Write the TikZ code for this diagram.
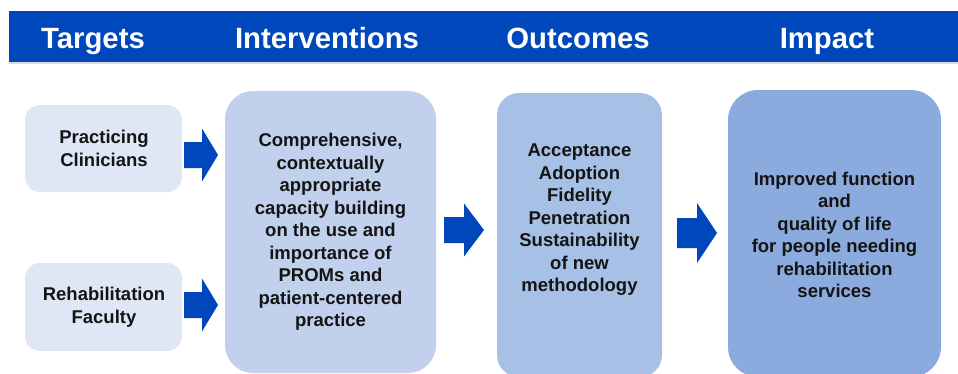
\documentclass[tikz,border=0pt]{standalone}
\usepackage{fontspec}
\setmainfont{Liberation Sans}
\begin{document}
\begin{tikzpicture}[x=1pt,y=-1pt,
  headtxt/.style={text=white,font=\fontsize{29.3}{34}\selectfont\bfseries,anchor=base},
  body/.style={text=black!92,font=\fontsize{18.5}{22.5}\selectfont\bfseries,align=center},
  blockarrow/.style={fill=bandblue,draw=none}]
\definecolor{bandblue}{RGB}{0,71,187}
\definecolor{tgtfill}{RGB}{223,231,246}
\definecolor{intfill}{RGB}{193,209,237}
\definecolor{outfill}{RGB}{167,192,230}
\definecolor{impfill}{RGB}{139,170,222}
\useasboundingbox (0,0) rectangle (958,373);
\clip (0,0) rectangle (958,373);

% title band with a faint shadow beneath
\fill[black!14] (9,62) rectangle (958,64);
\fill[bandblue] (9,11) rectangle (958,62);
\node[headtxt] (hT) at (93,48.5) {Targets};
\node[headtxt] (hI) at (327,48.5) {Interventions};
\node[headtxt] (hO) at (578,48.5) {Outcomes};
\node[headtxt] (hP) at (827,48.5) {Impact};

% boxes
\fill[tgtfill,rounded corners=15] (25,105) rectangle (182,192);
\node[body] (clin) at (104,148.5) {Practicing\\Clinicians};
\fill[tgtfill,rounded corners=15] (25,263) rectangle (182,351);
\node[body] (fac) at (104,307) {Rehabilitation\\Faculty};
\fill[intfill,rounded corners=28] (225,91) rectangle (436,373);
\node[body] (intv) at (330.5,232) {Comprehensive,\\contextually\\appropriate\\capacity building\\on the use and\\importance of\\PROMs and\\patient-centered\\practice};
\fill[outfill,rounded corners=22] (497,93) rectangle (662,377);
\node[body] (outc) at (579.5,220) {Acceptance\\Adoption\\Fidelity\\Penetration\\Sustainability\\of new\\methodology};
\fill[impfill,rounded corners=30] (728,90) rectangle (941,377);
\node[body] (imp) at (834.5,235) {Improved function\\and\\quality of life\\for people needing\\rehabilitation\\services};

% block arrows: shaft start, head start, tip, centre line, shaft and head half-heights
\newcommand{\blockarr}[7][]{%
  \fill[blockarrow,#1] (#2,#5-#6) -- (#3,#5-#6) -- (#3,#5-#7) -- (#4,#5)
     -- (#3,#5+#7) -- (#3,#5+#6) -- (#2,#5+#6) -- cycle;}
\blockarr{184}{202}{218}{155}{13}{26.5}
\blockarr{184}{202}{218}{305}{13}{26.5}
\blockarr{444}{464}{484}{230}{13}{26.5}
\blockarr{677}{697}{717}{233}{15}{30}
\end{tikzpicture}
\end{document}
